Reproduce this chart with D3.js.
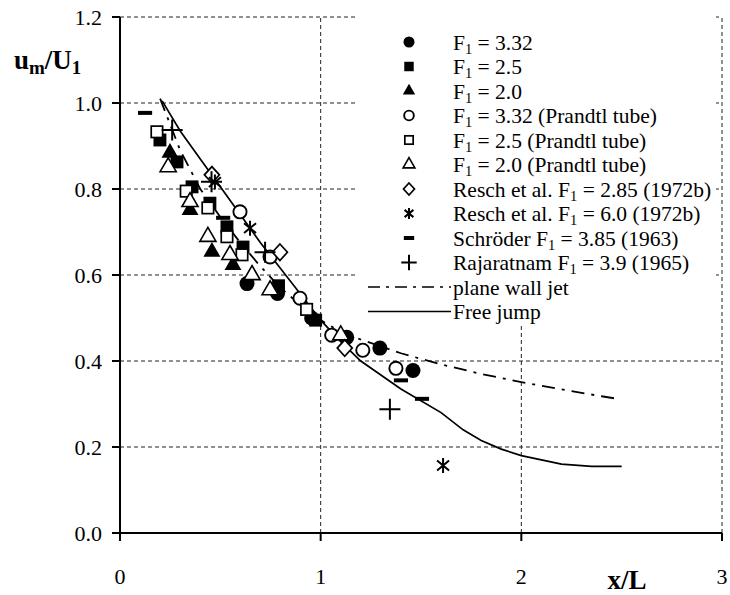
<!DOCTYPE html>
<html>
<head>
<meta charset="utf-8">
<script src="https://cdn.jsdelivr.net/npm/d3@7"></script>
<style>
  html, body { margin: 0; padding: 0; background: #fff; }
  svg { display: block; }
  text { font-family: "Liberation Serif", "DejaVu Serif", serif; fill: #000; }
</style>
</head>
<body>
<svg id="chart" width="730" height="595"></svg>
<script>
// Measured centreline velocity decay u_m/U_1 against x/L
const xTicks = [0, 1, 2, 3];
const yTicks = [0.0, 0.2, 0.4, 0.6, 0.8, 1.0, 1.2];

const circFilledX = [0.633, 0.785, 0.955, 1.13, 1.295, 1.46];
const circFilledY = [0.580, 0.557, 0.500, 0.455, 0.430, 0.378];
const sqFilledX = [0.199, 0.284, 0.359, 0.448, 0.533, 0.613, 0.790, 0.975];
const sqFilledY = [0.914, 0.863, 0.805, 0.767, 0.712, 0.665, 0.575, 0.495];
const triFilledX = [0.249, 0.349, 0.458, 0.563, 0.660];
const triFilledY = [0.884, 0.751, 0.654, 0.623, 0.600];
const circOpenX = [0.598, 0.748, 0.897, 1.055, 1.210, 1.375];
const circOpenY = [0.747, 0.642, 0.546, 0.460, 0.425, 0.383];
const sqOpenX = [0.184, 0.330, 0.438, 0.533, 0.608, 0.930];
const sqOpenY = [0.933, 0.795, 0.756, 0.689, 0.647, 0.520];
const triOpenX = [0.240, 0.349, 0.438, 0.548, 0.658, 0.748, 1.100];
const triOpenY = [0.851, 0.770, 0.689, 0.647, 0.600, 0.565, 0.460];
const diamondX = [0.458, 0.797, 1.120];
const diamondY = [0.833, 0.653, 0.430];
const asteriskX = [0.473, 0.648, 1.610];
const asteriskY = [0.816, 0.709, 0.157];
const dashX = [0.125, 0.514, 1.400, 1.505];
const dashY = [0.977, 0.733, 0.355, 0.312];
const plusX = [0.260, 0.456, 0.723, 1.345];
const plusY = [0.937, 0.817, 0.653, 0.288];

// Plane wall jet curve and free jump curve
const wallJetX = [0.20, 0.25, 0.30, 0.40, 0.50, 0.60, 0.70, 0.80, 0.90, 1.00, 1.10, 1.20, 1.40, 1.60, 1.80, 2.00, 2.20, 2.40, 2.48];
const wallJetY = [1.01, 0.95, 0.89, 0.80, 0.735, 0.675, 0.620, 0.570, 0.530, 0.495, 0.468, 0.450, 0.418, 0.392, 0.370, 0.351, 0.334, 0.318, 0.312];
const freeJumpX = [0.21, 0.30, 0.40, 0.50, 0.60, 0.70, 0.80, 0.90, 1.00, 1.10, 1.20, 1.40, 1.60, 1.71, 1.80, 1.90, 2.00, 2.10, 2.20, 2.35, 2.50];
const freeJumpY = [1.005, 0.935, 0.870, 0.805, 0.740, 0.675, 0.615, 0.555, 0.495, 0.445, 0.400, 0.335, 0.280, 0.240, 0.215, 0.195, 0.180, 0.170, 0.160, 0.155, 0.155];

const legendLabels = [
  ["F", "1", " = 3.32"],
  ["F", "1", " = 2.5"],
  ["F", "1", " = 2.0"],
  ["F", "1", " = 3.32 (Prandtl tube)"],
  ["F", "1", " = 2.5 (Prandtl tube)"],
  ["F", "1", " = 2.0 (Prandtl tube)"],
  ["Resch et al. F", "1", " = 2.85 (1972b)"],
  ["Resch et al. F", "1", " = 6.0 (1972b)"],
  ["Schröder F", "1", " = 3.85 (1963)"],
  ["Rajaratnam F", "1", " = 3.9 (1965)"],
  ["plane wall jet", "", ""],
  ["Free jump", "", ""]
];

const svg = d3.select("#chart");
const x = d3.scaleLinear().domain([0, 3]).range([120, 722]);
const y = d3.scaleLinear().domain([0, 1.2]).range([533, 17]);

// grid
const grid = svg.append("g").attr("stroke", "#222").attr("stroke-width", 1).attr("stroke-dasharray", "4,3");
yTicks.filter(v => v > 0).forEach(v => {
  grid.append("line").attr("x1", x(0)).attr("x2", x(3)).attr("y1", y(v)).attr("y2", y(v));
});
xTicks.filter(v => v > 0).forEach(v => {
  grid.append("line").attr("x1", x(v)).attr("x2", x(v)).attr("y1", y(0)).attr("y2", y(1.2));
});

// legend background hides the grid behind it
const lgLeft = 357, lgTop = 15, lgBottom = 324, rowH = 24.5, firstRow = 42;
svg.append("rect").attr("x", lgLeft).attr("y", lgTop)
  .attr("width", x(3) - lgLeft - 6).attr("height", lgBottom - lgTop).attr("fill", "#fff");

// curves
const lineGen = d3.line().x(d => x(d[0])).y(d => y(d[1]));
svg.append("path").datum(wallJetX.map((v, i) => [v, wallJetY[i]]))
  .attr("d", lineGen).attr("fill", "none").attr("stroke", "#000").attr("stroke-width", 1.8)
  .attr("stroke-dasharray", "13,7,3,7");
svg.append("path").datum(freeJumpX.map((v, i) => [v, freeJumpY[i]]))
  .attr("d", lineGen).attr("fill", "none").attr("stroke", "#000").attr("stroke-width", 1.7);

// marker drawing
function marker(g, kind, s) {
  switch (kind) {
    case "circleF": g.append("circle").attr("r", s * 0.5).attr("fill", "#000"); break;
    case "circleO": g.append("circle").attr("r", s * 0.44).attr("fill", "#fff").attr("stroke", "#000").attr("stroke-width", 1.9); break;
    case "squareF": g.append("rect").attr("x", -s * 0.43).attr("y", -s * 0.43).attr("width", s * 0.86).attr("height", s * 0.86).attr("fill", "#000"); break;
    case "squareO": g.append("rect").attr("x", -s * 0.38).attr("y", -s * 0.38).attr("width", s * 0.76).attr("height", s * 0.76).attr("fill", "#fff").attr("stroke", "#000").attr("stroke-width", 1.7); break;
    case "triF": g.append("path").attr("d", d3.symbol(d3.symbolTriangle, s * s * 0.55)()).attr("fill", "#000"); break;
    case "triO": g.append("path").attr("d", d3.symbol(d3.symbolTriangle, s * s * 0.5)()).attr("fill", "#fff").attr("stroke", "#000").attr("stroke-width", 1.6); break;
    case "diamond": g.append("path").attr("d", `M0,${-s * 0.55}L${s * 0.5},0L0,${s * 0.55}L${-s * 0.5},0Z`).attr("fill", "#fff").attr("stroke", "#000").attr("stroke-width", 1.7); break;
    case "asterisk": {
      const r = s * 0.5;
      const a = r * 0.8, b = r * 0.66;
      g.append("path").attr("d", `M0,${-r}L0,${r}M${-a},${-b}L${a},${b}M${-a},${b}L${a},${-b}`)
        .attr("stroke", "#000").attr("stroke-width", 2).attr("fill", "none");
      break;
    }
    case "dash": g.append("rect").attr("x", -s * 0.47).attr("y", -2).attr("width", s * 0.94).attr("height", 4).attr("fill", "#000"); break;
    case "plus": {
      const r = s * 0.7;
      g.append("path").attr("d", `M${-r},0L${r},0M0,${-r}L0,${r}`).attr("stroke", "#000").attr("stroke-width", 2);
      break;
    }
  }
}

const series = [
  ["circleF", circFilledX, circFilledY],
  ["squareF", sqFilledX, sqFilledY],
  ["triF", triFilledX, triFilledY],
  ["circleO", circOpenX, circOpenY],
  ["squareO", sqOpenX, sqOpenY],
  ["triO", triOpenX, triOpenY],
  ["diamond", diamondX, diamondY],
  ["asterisk", asteriskX, asteriskY],
  ["dash", dashX, dashY],
  ["plus", plusX, plusY]
];

const pts = svg.append("g");
series.forEach(([kind, xs, ys]) => {
  xs.forEach((v, i) => {
    marker(pts.append("g").attr("transform", `translate(${x(v)},${y(ys[i])})`), kind, 15);
  });
});

// axes
const axisG = svg.append("g").attr("stroke", "#000").attr("stroke-width", 2);
axisG.append("line").attr("x1", x(0)).attr("x2", x(3)).attr("y1", y(0)).attr("y2", y(0));
axisG.append("line").attr("x1", x(0)).attr("x2", x(0)).attr("y1", y(0)).attr("y2", y(1.2));
yTicks.forEach(v => axisG.append("line").attr("x1", x(0) - 8).attr("x2", x(0)).attr("y1", y(v)).attr("y2", y(v)));
xTicks.forEach(v => axisG.append("line").attr("x1", x(v)).attr("x2", x(v)).attr("y1", y(0)).attr("y2", y(0) + 8));

svg.append("g").selectAll("text").data(yTicks).join("text")
  .attr("x", 102).attr("y", d => y(d)).attr("dy", "0.35em")
  .attr("text-anchor", "end").attr("font-size", 22).text(d => d.toFixed(1));
svg.append("g").selectAll("text").data(xTicks).join("text")
  .attr("x", d => x(d)).attr("y", 584)
  .attr("text-anchor", "middle").attr("font-size", 22).text(d => d);

// axis titles
const yt = svg.append("text").attr("x", 14).attr("y", 69).attr("font-size", 27).attr("font-weight", "bold");
yt.append("tspan").text("u");
yt.append("tspan").attr("font-size", 19).attr("dy", 5).text("m");
yt.append("tspan").attr("dy", -5).text("/U");
yt.append("tspan").attr("font-size", 19).attr("dy", 5).text("1");
svg.append("text").attr("x", 627).attr("y", 589).attr("font-size", 27).attr("font-weight", "bold")
  .attr("text-anchor", "middle").text("x/L");

// legend
const legendKinds = ["circleF", "squareF", "triF", "circleO", "squareO", "triO", "diamond", "asterisk", "dash", "plus", "wall", "free"];
const lg = svg.append("g");
legendLabels.forEach((lab, i) => {
  const cy = firstRow + i * rowH;
  const kind = legendKinds[i];
  if (kind === "wall" || kind === "free") {
    const l = lg.append("line").attr("x1", 368).attr("x2", 451).attr("y1", cy).attr("y2", cy)
      .attr("stroke", "#000").attr("stroke-width", 1.7);
    if (kind === "wall") l.attr("stroke-dasharray", "12,6,3,6");
  } else {
    marker(lg.append("g").attr("transform", `translate(409,${cy})`), kind, 11);
  }
  const t = lg.append("text").attr("x", 453).attr("y", cy).attr("dy", "0.35em").attr("font-size", 21.5);
  t.append("tspan").text(lab[0]);
  if (lab[1]) {
    t.append("tspan").attr("font-size", 14.5).attr("dy", 4).text(lab[1]);
    t.append("tspan").attr("dy", -4).text(lab[2]);
  }
});
</script>
</body>
</html>
